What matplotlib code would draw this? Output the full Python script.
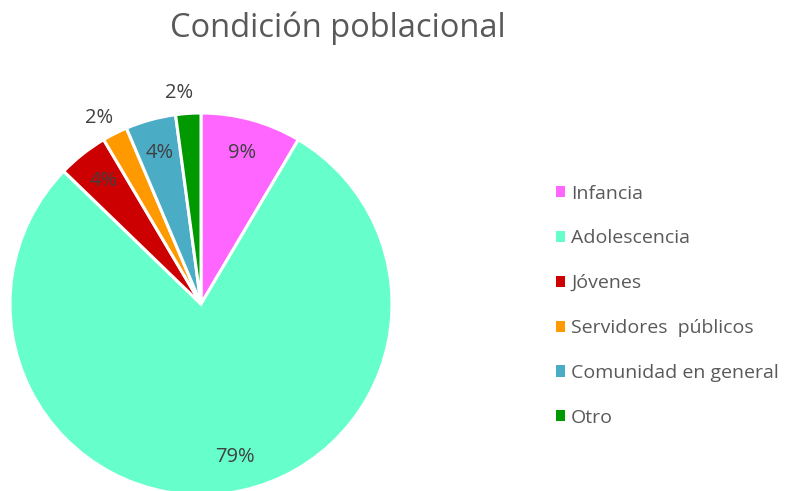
import numpy as np
import matplotlib.pyplot as plt
from matplotlib.patches import Patch

plt.rcParams['font.family'] = ['Open Sans', 'DejaVu Sans']

# datos (conteos)
categorias = ['Infancia', 'Adolescencia', 'Jóvenes', 'Servidores  públicos',
              'Comunidad en general', 'Otro']
valores = [4, 37, 2, 1, 2, 1]
colores = ['#FF66FF', '#66FFCC', '#CC0000', '#FF9900', '#4BACC6', '#009900']

fig = plt.figure(figsize=(7.96, 4.91), dpi=100)
ax = fig.add_axes([10 / 796, -4 / 491, 382 / 796, 382 / 491])

wedges, texts, autotexts = ax.pie(
    valores, colors=colores, startangle=90, counterclock=False,
    autopct='%1.0f%%', pctdistance=0.82,
    wedgeprops=dict(edgecolor='white', linewidth=2.2),
    textprops=dict(color='#404040', fontsize=14.5))
ax.set_xlim(-1, 1)
ax.set_ylim(-1, 1)
ax.set_aspect('equal')

# etiquetas pequeñas fuera del pastel
for w, t in zip(wedges, autotexts):
    ang = np.deg2rad((w.theta1 + w.theta2) / 2)
    frac = (w.theta2 - w.theta1) / 360
    r = 0.82
    if frac < 0.03:
        r = 1.11
        ang += np.deg2rad(2)
    elif frac > 0.5:
        ang += np.deg2rad(5)
    t.set_position((r * np.cos(ang), r * np.sin(ang)))
    t.set_clip_on(False)

fig.text(338 / 796, 1 - 28 / 491, 'Condición poblacional', ha='center',
         va='center', fontsize=23.5, color='#595959')

handles = [Patch(facecolor=c, edgecolor='none') for c in colores]
fig.legend(handles, categorias, loc='upper left',
           bbox_to_anchor=(542 / 796, 1 - 171 / 491), frameon=False,
           fontsize=14, handlelength=0.5, handleheight=0.5, handletextpad=0.3,
           labelspacing=1.38, labelcolor='#595959', borderaxespad=0.3)

fig.savefig('out.png', dpi=100)
